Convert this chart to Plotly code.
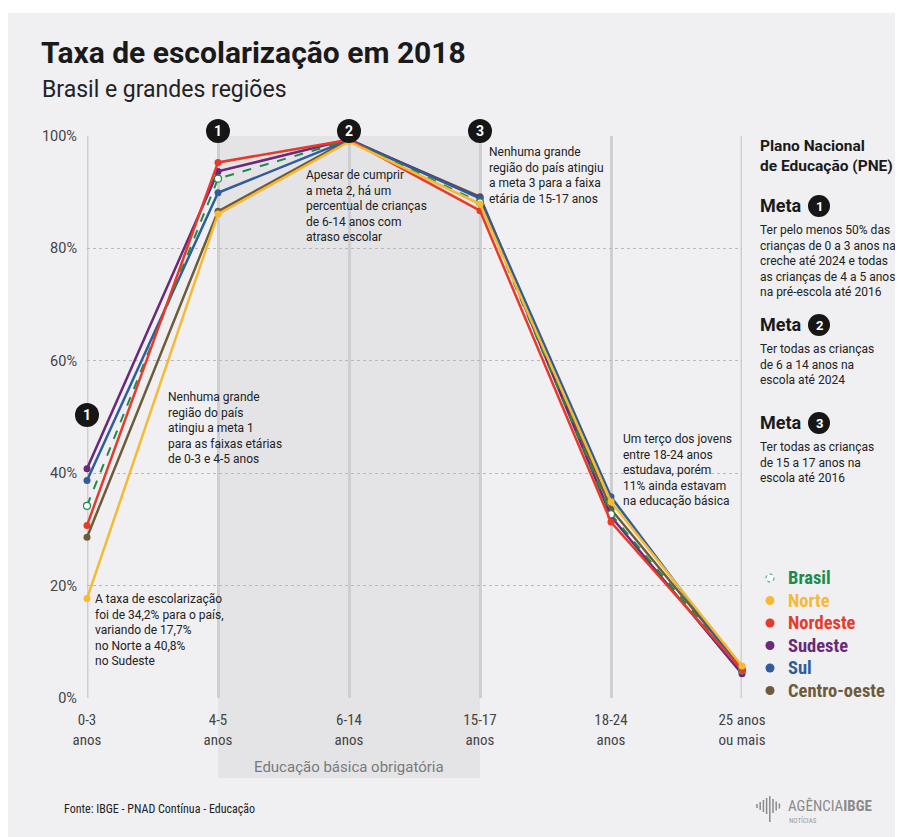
import plotly.graph_objects as go

categories = ["0-3<br>anos", "4-5<br>anos", "6-14<br>anos", "15-17<br>anos", "18-24<br>anos", "25 anos<br>ou mais"]
x_pos = [0, 1, 2, 3, 4, 5]
brasil = [34.2, 92.4, 99.3, 88.2, 32.7, 4.9]
norte = [17.7, 86.1, 99.0, 87.9, 34.9, 5.7]
nordeste = [30.7, 95.3, 99.3, 86.7, 31.3, 5.0]
sudeste = [40.8, 93.7, 99.4, 89.0, 32.3, 4.3]
sul = [38.7, 89.9, 99.3, 88.9, 35.8, 4.8]
centro_oeste = [28.6, 86.6, 99.3, 89.2, 33.6, 5.2]
y_ticks = [0, 20, 40, 60, 80, 100]
y_ticktext = ["0%", "20%", "40%", "60%", "80%", "100%"]

C_BR = "#1e8a4c"
C_NO = "#f6b932"
C_NE = "#e83a2a"
C_SE = "#6a2a79"
C_SU = "#2f5d9a"
C_CO = "#6d5b3a"

W, H = 903, 837
OFF = 8  # page body margin
L, R, T, B = 79, 169, 128, 147
PW, PH = W - L - R, H - T - B


def px(xp):
    return (xp - OFF - L) / PW


def py(yp):
    return (H - B - (yp - OFF)) / PH


COND = "Roboto Condensed, Liberation Sans Narrow, Roboto, sans-serif"
REG = "Roboto, sans-serif"

fig = go.Figure()

series = [
    ("Centro-oeste", centro_oeste, C_CO),
    ("Sudeste", sudeste, C_SE),
    ("Sul", sul, C_SU),
    ("Brasil", brasil, C_BR),
    ("Nordeste", nordeste, C_NE),
    ("Norte", norte, C_NO),
]
for name, vals, col in series:
    if name == "Brasil":
        fig.add_trace(go.Scatter(
            x=x_pos, y=vals, name=name, mode="lines+markers",
            line=dict(color=col, width=2, dash="dash"),
            marker=dict(color="white", size=7, line=dict(color=col, width=1.2)),
            cliponaxis=False, showlegend=False))
    else:
        fig.add_trace(go.Scatter(
            x=x_pos, y=vals, name=name, mode="lines+markers",
            line=dict(color=col, width=2.5),
            marker=dict(color=col, size=7),
            cliponaxis=False, showlegend=False))

shapes = []
# background panel
shapes.append(dict(type="rect", xref="paper", yref="paper", layer="below",
                   x0=px(8), x1=px(915), y0=py(850), y1=py(13),
                   fillcolor="#f0f0f2", line=dict(width=0)))
# shaded mandatory education area
shapes.append(dict(type="rect", xref="x", yref="paper", layer="below",
                   x0=1, x1=3, y0=py(778), y1=1,
                   fillcolor="#e4e4e7", line=dict(width=0)))
# edge verticals (0-3 and 25 anos)
for xv in [0, 5]:
    shapes.append(dict(type="line", xref="x", yref="paper", layer="below",
                       x0=xv, x1=xv, y0=0, y1=1,
                       line=dict(color="#cfcfd1", width=3)))

annotations = []


def badge(xv, yv, num, xref="x", yref="paper", r=12):
    shapes.append(dict(type="circle", xref=xref, yref=yref,
                       xsizemode="pixel", ysizemode="pixel",
                       xanchor=xv, yanchor=yv, x0=-r, x1=r, y0=-r, y1=r,
                       fillcolor="#161616", line=dict(width=0), layer="above"))
    annotations.append(dict(x=xv, y=yv, xref=xref, yref=yref, text="<b>%s</b>" % num,
                            showarrow=False, font=dict(family=REG, size=14, color="white"),
                            xanchor="center", yanchor="middle"))


badge(px(87), py(415), "1", xref="paper")
badge(1, py(131), "1")
badge(2, py(131), "2")
badge(3, py(131), "3")


def note(xp, yp, text, size=12, color="#222222", family=REG, anchor="left"):
    annotations.append(dict(x=px(xp), y=py(yp), xref="paper", yref="paper", text=text,
                            showarrow=False, xanchor=anchor, yanchor="top", align=anchor,
                            font=dict(family=family, size=size, color=color)))


# titles
note(39, 33, "<b>Taxa de escolarização em 2018</b>", size=30, color="#1a1a1a")
note(40, 74, "Brasil e grandes regiões", size=23, color="#222222")

# in-chart notes
note(304, 166, "Apesar de cumprir<br>a meta 2, há um<br>percentual de crianças<br>de 6-14 anos com<br>atraso escolar")
note(487, 143, "Nenhuma grande<br>região do país atingiu<br>a meta 3 para a faixa<br>etária de 15-17 anos")
note(166, 388, "Nenhuma grande<br>região do país<br>atingiu a meta 1<br>para as faixas etárias<br>de 0-3 e 4-5 anos")
note(93, 590, "A taxa de escolarização<br>foi de 34,2% para o país,<br>variando de 17,7%<br>no Norte a 40,8%<br>no Sudeste")
note(621, 430, "Um terço dos jovens<br>entre 18-24 anos<br>estudava, porém<br>11% ainda estavam<br>na educação básica")

# side panel
note(758, 135, "<b>Plano Nacional<br>de Educação (PNE)</b>", size=15.5, color="#1a1a1a")
for yy, num, txt in [
    (193, "1", "Ter pelo menos 50% das<br>crianças de 0 a 3 anos na<br>creche até 2024 e todas<br>as crianças de 4 a 5 anos<br>na pré-escola até 2016"),
    (312, "2", "Ter todas as crianças<br>de 6 a 14 anos na<br>escola até 2024"),
    (410, "3", "Ter todas as crianças<br>de 15 a 17 anos na<br>escola até 2016"),
]:
    note(758, yy, "<b>Meta</b>", size=18, color="#1a1a1a")
    shapes.append(dict(type="circle", xref="paper", yref="paper",
                       xsizemode="pixel", ysizemode="pixel",
                       xanchor=px(819), yanchor=py(yy + 13), x0=-11, x1=11, y0=-11, y1=11,
                       fillcolor="#161616", line=dict(width=0)))
    annotations.append(dict(x=px(819), y=py(yy + 13), xref="paper", yref="paper",
                            text="<b>%s</b>" % num, showarrow=False,
                            font=dict(family=REG, size=13, color="white"),
                            xanchor="center", yanchor="middle"))
    note(758, yy + 28, txt, size=12)

# legend
legend_items = [("Brasil", C_BR), ("Norte", C_NO), ("Nordeste", C_NE),
                ("Sudeste", C_SE), ("Sul", C_SU), ("Centro-oeste", C_CO)]
for i, (name, col) in enumerate(legend_items):
    yy = 578 + i * 22.5
    if name == "Brasil":
        shapes.append(dict(type="circle", xref="paper", yref="paper",
                           xsizemode="pixel", ysizemode="pixel",
                           xanchor=px(770), yanchor=py(yy), x0=-4, x1=4, y0=-4, y1=4,
                           fillcolor="white", line=dict(color=C_BR, width=1, dash="dot")))
    else:
        shapes.append(dict(type="circle", xref="paper", yref="paper",
                           xsizemode="pixel", ysizemode="pixel",
                           xanchor=px(770), yanchor=py(yy), x0=-4.5, x1=4.5, y0=-4.5, y1=4.5,
                           fillcolor=col, line=dict(width=0)))
    annotations.append(dict(x=px(786), y=py(yy), xref="paper", yref="paper",
                            text="<b>%s</b>" % name, showarrow=False,
                            xanchor="left", yanchor="middle",
                            font=dict(family=COND, size=18.5, color=col)))

# bottom labels
annotations.append(dict(x=2, y=py(767), xref="x", yref="paper", text="Educação básica obrigatória",
                        showarrow=False, xanchor="center", yanchor="middle",
                        font=dict(family=REG, size=15, color="#7a7a7a")))
note(62, 800, "Fonte: IBGE - PNAD Contínua - Educação", size=12, color="#222222", family=COND)

# logo
for i, hh in enumerate([4, 8, 12, 16, 20, 14, 9, 5]):
    xx = 757 + i * 3.2
    shapes.append(dict(type="line", xref="paper", yref="paper",
                       x0=px(xx), x1=px(xx), y0=py(806 - hh / 2), y1=py(806 + hh / 2 + (6 if i == 4 else 0)),
                       line=dict(color="#8a8a8a", width=1.5)))
annotations.append(dict(x=px(786), y=py(806), xref="paper", yref="paper",
                        text="AGÊNCIA<b>IBGE</b>", showarrow=False, xanchor="left", yanchor="middle",
                        font=dict(family=COND, size=15, color="#8a8a8a")))
annotations.append(dict(x=px(787), y=py(820), xref="paper", yref="paper",
                        text="NOTÍCIAS", showarrow=False, xanchor="left", yanchor="middle",
                        font=dict(family=COND, size=7, color="#9a9a9a")))

fig.update_layout(
    width=W, height=H,
    margin=dict(l=L, r=R, t=T, b=B, pad=0),
    paper_bgcolor="white",
    plot_bgcolor="rgba(0,0,0,0)",
    shapes=shapes,
    annotations=annotations,
    showlegend=False,
    xaxis=dict(range=[0, 5], tickvals=x_pos, ticktext=categories,
               showgrid=True, gridcolor="#cfcfd1", gridwidth=3,
               zeroline=False, showline=False, ticks="",
               tickfont=dict(family=COND, size=15, color="#444444"),
               ticklabelstandoff=11, fixedrange=True),
    yaxis=dict(range=[0, 100], tickvals=y_ticks, ticktext=y_ticktext,
               showgrid=True, gridcolor="#b9b9bb", gridwidth=1, griddash="dot",
               zeroline=False, showline=False, ticks="",
               tickfont=dict(family=REG, size=14.5, color="#444444"),
               ticklabelstandoff=9, fixedrange=True),
)

fig.write_html("out.html")
